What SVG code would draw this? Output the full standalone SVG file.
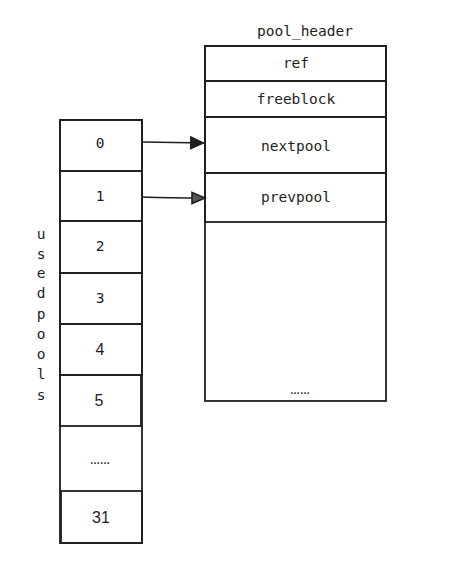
<svg xmlns="http://www.w3.org/2000/svg" width="466" height="568" viewBox="0 0 466 568">
<style>
.box{fill:none;stroke:#1e1e1e;stroke-width:1.8}
.t{font-family:"DejaVu Sans Mono","Liberation Mono",monospace;font-size:14.5px;fill:#1e1e1e;text-anchor:middle;dominant-baseline:central}
.s{font-family:"Liberation Sans",Arial,sans-serif;font-size:16px;fill:#1e1e1e;text-anchor:middle;dominant-baseline:central}
.d{font-family:"Liberation Sans",Arial,sans-serif;font-size:10px;font-weight:bold;fill:#1e1e1e;text-anchor:middle;dominant-baseline:central}
.c{fill:none;stroke:#1e1e1e;stroke-width:1.3}
</style>
<defs>
<marker id="af" markerWidth="16" markerHeight="14" refX="15" refY="7" orient="auto" markerUnits="userSpaceOnUse">
<path d="M0,0 L15,7 L0,14 Z" fill="#1e1e1e"/>
</marker>
<marker id="ao" markerWidth="16" markerHeight="14" refX="14" refY="7" orient="auto" markerUnits="userSpaceOnUse">
<path d="M1,1.5 L14,7 L1,12.5 Z" fill="#555" stroke="#1e1e1e" stroke-width="1.6"/>
</marker>
</defs>
<rect width="466" height="568" fill="#fff"/>
<text class="t" x="305" y="31">pool_header</text>
<g id="pool_header">
<rect class="box" x="205" y="46" width="181" height="355"/>
</g>
<g id="ref"><rect class="box" x="205" y="46" width="181" height="35"/><text class="t" x="296" y="63">ref</text></g>
<g id="freeblock"><rect class="box" x="205" y="81" width="181" height="36"/><text class="t" x="296" y="99">freeblock</text></g>
<g id="nextpool"><rect class="box" x="205" y="117" width="181" height="56"/><text class="t" x="296" y="146">nextpool</text></g>
<g id="prevpool"><rect class="box" x="205" y="173" width="181" height="49"/><text class="t" x="296" y="197">prevpool</text></g>
<text class="d" x="300" y="390">……</text>

<g id="usedpools">
<rect class="box" x="60" y="120" width="82" height="423"/>
</g>
<g id="u0"><rect class="box" x="60" y="120" width="82" height="51"/><text class="t" x="100" y="143">0</text></g>
<g id="u1"><rect class="box" x="60" y="171" width="82" height="50"/><text class="t" x="100" y="196">1</text></g>
<g id="u2"><rect class="box" x="60" y="221" width="82" height="52"/><text class="t" x="100" y="246">2</text></g>
<g id="u3"><rect class="box" x="60" y="273" width="82" height="51"/><text class="t" x="100" y="298">3</text></g>
<g id="u4"><rect class="box" x="60" y="324" width="82" height="51"/><text class="s" x="100" y="349">4</text></g>
<g id="u5"><rect class="box" x="60" y="375" width="81" height="51"/><text class="s" x="99" y="400">5</text></g>
<text class="d" x="100" y="460">……</text>
<g id="u31"><rect class="box" x="61" y="491" width="81" height="52"/><text class="s" x="101" y="517">31</text></g>

<g id="label-usedpools">
<text class="t" x="41" y="234">u</text>
<text class="t" x="41" y="254">s</text>
<text class="t" x="41" y="273">e</text>
<text class="t" x="41" y="293">d</text>
<text class="t" x="41" y="314">p</text>
<text class="t" x="41" y="334">o</text>
<text class="t" x="41" y="354">o</text>
<text class="t" x="41" y="374">l</text>
<text class="t" x="41" y="395">s</text>
</g>

<g id="connectors">
<path class="c" d="M142,142 L205,143" marker-end="url(#af)"/>
<path class="c" d="M142,197 Q170,198 205,198" marker-end="url(#ao)"/>
</g>
</svg>
